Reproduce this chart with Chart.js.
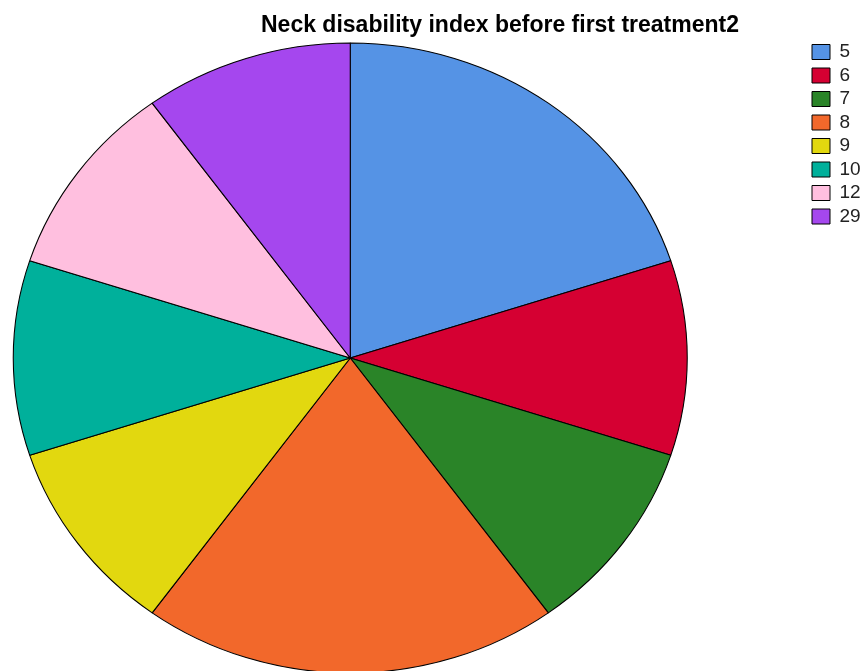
<!DOCTYPE html>
<html>
<head>
<meta charset="utf-8">
<script src="https://cdn.jsdelivr.net/npm/chart.js@4.4.1/dist/chart.umd.min.js"></script>
<style>
  html, body { margin: 0; padding: 0; background: #fff; }
  #wrap { width: 861px; height: 671px; }
</style>
</head>
<body>
<div id="wrap"><canvas id="chart"></canvas></div>
<script>
// Neck disability index before first treatment2 - frequency pie
const titleText = 'Neck disability index before first treatment2';
const categories = ['5', '6', '7', '8', '9', '10', '12', '29'];
const counts = [2, 1, 1, 2, 1, 1, 1, 1];
const sliceColors = ['#5593E5', '#D50032', '#2A8428', '#F2682B', '#E2D80F', '#00B09B', '#FFBFDF', '#A547EE'];

// SPSS draws the pie slightly wider than tall
const stretchX = 337 / 315;

// pie sits left of the legend, and runs off the bottom edge a bit
const pieArea = { left: -107, bottom: 678 };

const ellipsePlugin = {
  id: 'ellipse',
  afterLayout(chart) {
    const a = chart.chartArea;
    a.left = pieArea.left;
    a.bottom = pieArea.bottom;
    a.width = a.right - a.left;
    a.height = a.bottom - a.top;
  },
  beforeDatasetsDraw(chart) {
    const arc = chart.getDatasetMeta(0).data[0];
    const ctx = chart.ctx;
    ctx.save();
    ctx.translate(arc.x, arc.y);
    ctx.scale(stretchX, 1);
    ctx.translate(-arc.x, -arc.y);
  },
  afterDatasetsDraw(chart) {
    chart.ctx.restore();
  }
};

const titlePlugin = {
  id: 'spssTitle',
  afterDraw(chart) {
    const ctx = chart.ctx;
    ctx.save();
    ctx.font = 'bold 23px "Liberation Sans", Arial, sans-serif';
    ctx.fillStyle = '#000';
    ctx.textAlign = 'center';
    ctx.textBaseline = 'alphabetic';
    ctx.fillText(titleText, 500, 32);
    ctx.restore();
  }
};

new Chart(document.getElementById('chart').getContext('2d'), {
  type: 'pie',
  data: {
    labels: categories,
    datasets: [{
      data: counts,
      backgroundColor: sliceColors,
      borderColor: '#000',
      borderWidth: 1,
      radius: 315,
      hoverOffset: 0
    }]
  },
  options: {
    responsive: true,
    maintainAspectRatio: false,
    animation: false,
    layout: { padding: { top: 38, bottom: 0, left: 0, right: 0 } },
    plugins: {
      title: { display: false },
      tooltip: { enabled: false },
      legend: {
        position: 'right',
        align: 'start',
        maxWidth: 53.5,
        labels: {
          boxWidth: 18,
          boxHeight: 15,
          padding: 4.5,
          color: '#222',
          font: { family: '"Liberation Sans", Arial, sans-serif', size: 19 }
        }
      }
    }
  },
  plugins: [ellipsePlugin, titlePlugin]
});
</script>
</body>
</html>
